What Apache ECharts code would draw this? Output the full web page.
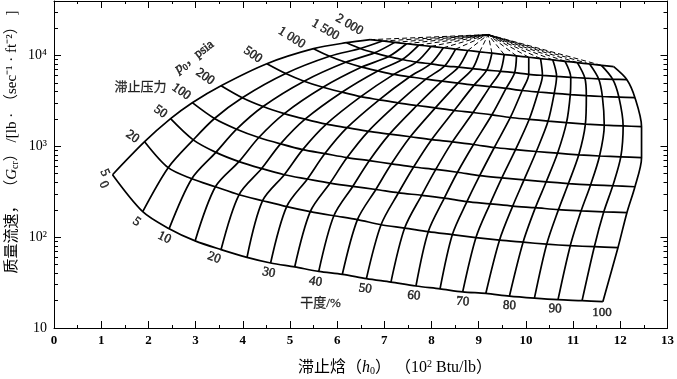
<!DOCTYPE html>
<html><head><meta charset="utf-8">
<script src="https://cdn.jsdelivr.net/npm/echarts@6/dist/echarts.min.js"></script>
<style>html,body{margin:0;padding:0;background:#fff}#c{width:677px;height:379px}</style>
</head><body><div id="c"></div>
<script>
// stagnation pressure lines (psia) and quality lines (%)
const pressures = [5, 20, 50, 100, 200, 500, 1000, 1500, 2000];
const qualities = [0,5,10,15,20,25,30,35,40,45,50,55,60,65,70,75,80,85,90,95,100];

// node enthalpy (10^2 Btu/lb) and critical mass flux (lb/(s·ft2)) for each pressure line, per quality
const enth_p5    = [1.24,1.88,2.44,2.99,3.54,4.09,4.59,5.10,5.61,6.11,6.62,7.14,7.67,8.18,8.66,9.15,9.65,10.18,10.68,11.19,11.63];
const flux_p5    = [487,191,124,91,73,60,52,47,42,39,35,32,29,27,25,24,22.4,21.3,20.5,20,19.5];
const enth_p20   = [1.92,2.42,2.92,3.42,3.92,4.42,4.93,5.43,5.93,6.43,6.93,7.43,7.93,8.44,8.94,9.44,9.94,10.44,10.94,11.45,11.95];
const flux_p20   = [1125,582,440,359,293,252,217,191,172,156,137,126,115,106.5,98.7,92.6,88,83.7,80.6,78.5,76.6];
const enth_p50   = [2.47,2.95,3.43,3.92,4.40,4.88,5.37,5.85,6.33,6.82,7.30,7.79,8.27,8.75,9.24,9.72,10.20,10.69,11.17,11.65,12.14];
const flux_p50   = [2015,1178,858,679,569,487,437,394,362,335,308,289,269,246,233,220,211,201,195,190,186];
const enth_p100  = [2.93,3.40,3.87,4.34,4.80,5.27,5.74,6.21,6.68,7.15,7.62,8.09,8.55,9.02,9.49,9.96,10.43,10.90,11.37,11.84,12.31];
const flux_p100  = [3024,2026,1545,1251,1064,919,832,752,695,642,592,557,518,476,450,427,407,389,376,368,359];
const enth_p200  = [3.54,3.99,4.43,4.88,5.32,5.77,6.21,6.66,7.11,7.55,8.00,8.44,8.89,9.33,9.78,10.22,10.67,11.12,11.56,12.01,12.45];
const flux_p200  = [4652,3432,2745,2294,1990,1753,1604,1464,1364,1274,1184,1119,1048,971,921,877,840,807,783,767,750];
const enth_p500  = [4.51,4.91,5.30,5.70,6.10,6.50,6.89,7.29,7.69,8.08,8.48,8.88,9.28,9.67,10.07,10.47,10.86,11.26,11.66,12.06,12.45];
const flux_p500  = [8124,6338,5214,4467,3947,3520,3253,3008,2815,2650,2481,2358,2225,2078,1985,1896,1821,1757,1709,1679,1645];
const enth_p1000 = [5.50,5.84,6.18,6.52,6.86,7.20,7.54,7.88,8.22,8.56,8.90,9.24,9.58,9.92,10.26,10.60,10.94,11.28,11.62,11.97,12.31];
const flux_p1000 = [11885,9802,8419,7455,6771,6194,5829,5487,5214,4968,4722,4546,4344,4119,3966,3837,3712,3610,3537,3484,3432];
const enth_p1500 = [6.20,6.49,6.79,7.09,7.38,7.68,7.98,8.28,8.57,8.87,9.17,9.46,9.76,10.06,10.35,10.65,10.95,11.25,11.54,11.84,12.14];
const flux_p1500 = [13836,11946,10683,9727,9040,8462,8085,7703,7435,7158,6891,6702,6467,6211,6039,5888,5755,5626,5541,5471,5416];
const enth_p2000 = [6.70,6.96,7.22,7.47,7.73,7.99,8.25,8.51,8.77,9.02,9.28,9.54,9.80,10.06,10.31,10.57,10.83,11.09,11.35,11.60,11.86];
const flux_p2000 = [14935,14432,13946,13478,13024,12585,12163,11749,11356,10972,10602,10247,9901,9568,9247,8935,8635,8344,8063,7794,7532];

// point where dashed extensions converge
const convergePoint = [9.2, 17000];

// axis ticks
const xTicks = [0,1,2,3,4,5,6,7,8,9,10,11,12,13];
const yDecades = [10, 100, 1000, 10000];
const yDecadeLabels = ['10', '10²', '10³', '10⁴'];
const yMinorTicks = [20,30,40,50,60,70,80,90,200,300,400,500,600,700,800,900,2000,3000,4000,5000,6000,7000,8000,9000,20000,30000];

// text annotations (text, enthalpy, flux)
const pressureLabels = ['5','20','50','100','200','500','1 000','1 500','2 000'];
const pressureLabelAt = [[1.075,513],[1.665,1277],[2.255,2406],[2.697,3996],[3.203,5844],[4.214,10206],[5.036,15710],[5.752,19245],[6.258,21840]];
const qualityLabels = ['0','5','10','20','30','40','50','60','70','80','90','100'];
const qualityLabelAt = [[1.054,378],[1.749,148],[2.339,98.7],[3.392,59.4],[4.551,40.6],[5.541,32.3],[6.595,27.1],[7.627,22.7],[8.66,19.5],[9.65,17.6],[10.62,16.3],[11.61,14.7]];

const enthRows = [enth_p5,enth_p20,enth_p50,enth_p100,enth_p200,enth_p500,enth_p1000,enth_p1500,enth_p2000];
const fluxRows = [flux_p5,flux_p20,flux_p50,flux_p100,flux_p200,flux_p500,flux_p1000,flux_p1500,flux_p2000];

const SERIF = "'Liberation Serif','Times New Roman','Noto Sans CJK SC',serif";
const series = [];
const solid = {color:'#000', width:1.7};

pressures.forEach((p, i) => {
  series.push({type:'line', name:'p'+p, data: enthRows[i].map((h, j) => [h, fluxRows[i][j]]),
    smooth:0.3, showSymbol:false, silent:true, lineStyle:solid, z:3});
});
qualities.forEach((q, j) => {
  series.push({type:'line', name:'x'+q, data: pressures.map((p, i) => [enthRows[i][j], fluxRows[i][j]]),
    smooth:0.3, showSymbol:false, silent:true, lineStyle:solid, z:3});
});
qualities.slice(0, 20).forEach((q, j) => {
  series.push({type:'line', data: [[enth_p2000[j], flux_p2000[j]], convergePoint],
    showSymbol:false, silent:true, lineStyle:{color:'#000', width:1, type:[5,3]}, z:2});
});

const labelBase = {position:[0,0], align:'center', verticalAlign:'middle', color:'#000',
  textBorderColor:'#000', textBorderWidth:0.5, textShadowBlur:0, fontFamily:SERIF, fontSize:13};
const pRot = [-65,-35,-35,-35,-35,-35,-32,-30,-30];
series.push({type:'scatter', symbolSize:0, silent:true, z:5, itemStyle:{color:'#000'},
  data: pressureLabels.map((t, i) => ({value: pressureLabelAt[i], label:{show:true, formatter:t, rotate:pRot[i]}})),
  label:labelBase});
const qRot = [-65,-35,-25,-20,-12,-10,-8,-6,-5,-3,-2,0];
series.push({type:'scatter', symbolSize:0, silent:true, z:5, itemStyle:{color:'#000'},
  data: qualityLabels.map((t, i) => ({value: qualityLabelAt[i], label:{show:true, formatter:t, rotate:qRot[i]}})),
  label:labelBase});
series.push({type:'scatter', symbolSize:0, silent:true, z:5, itemStyle:{color:'#000'},
  data: [
    {value:[2.971, 9703], label:{show:true, formatter:'{i|p}{s|0}，psia', rotate:37}},
    {value:[1.833, 4423], label:{show:true, formatter:'滞止压力', rotate:0, textBorderWidth:0.3}},
    {value:[5.647, 18.5], label:{show:true, formatter:'干度/%', rotate:0, textBorderWidth:0.3}}
  ],
  label:Object.assign({}, labelBase, {
    rich:{i:{fontStyle:'italic', fontFamily:SERIF, fontSize:14, color:'#000'}, s:{fontSize:9, fontFamily:SERIF, color:'#000', padding:[7,0,0,0]}}})});

const axisLineStyle = {show:true, lineStyle:{color:'#000', width:1}};
const option = {
  backgroundColor:'#fff',
  animation:false,
  grid:{left:54, right:6, top:1, bottom:51},
  xAxis:[
    {type:'value', min:0, max:13, interval:1, position:'bottom', axisLine:axisLineStyle,
     axisTick:{inside:true, length:7, lineStyle:{color:'#000'}},
     minorTick:{show:true, splitNumber:2, length:3, lineStyle:{color:'#000'}},
     splitLine:{show:false},
     axisLabel:{color:'#000', fontFamily:SERIF, fontSize:13, fontWeight:'bold', margin:6,
       formatter: v => String(xTicks[Math.round(v)])}},
    {type:'value', min:0, max:13, interval:1, position:'top', axisLine:axisLineStyle,
     axisTick:{inside:true, length:7, lineStyle:{color:'#000'}},
     minorTick:{show:true, splitNumber:2, length:3, lineStyle:{color:'#000'}},
     splitLine:{show:false}, axisLabel:{show:false}}
  ],
  yAxis:[
    {type:'log', logBase:10, min:10, max:39811, position:'left', axisLine:axisLineStyle,
     axisTick:{inside:true, length:7, lineStyle:{color:'#000'}, customValues:yDecades},
     splitLine:{show:false},
     axisLabel:{color:'#000', fontFamily:SERIF, fontSize:14, margin:7, customValues:yDecades,
       formatter: v => yDecadeLabels[yDecades.indexOf(Math.round(v))] || ''}},
    {type:'log', logBase:10, min:10, max:39811, position:'left', axisLine:{show:false},
     axisTick:{inside:true, length:4, lineStyle:{color:'#000'}, customValues:yMinorTicks},
     splitLine:{show:false}, axisLabel:{show:false}},
    {type:'log', logBase:10, min:10, max:39811, position:'right', axisLine:axisLineStyle,
     axisTick:{inside:true, length:7, lineStyle:{color:'#000'}, customValues:yDecades},
     splitLine:{show:false}, axisLabel:{show:false}},
    {type:'log', logBase:10, min:10, max:39811, position:'right', axisLine:{show:false},
     axisTick:{inside:true, length:4, lineStyle:{color:'#000'}, customValues:yMinorTicks},
     splitLine:{show:false}, axisLabel:{show:false}}
  ],
  graphic:[
    {type:'text', x:395, y:368, style:{text:'滞止焓（{i|h}{s|0}） （10{p|2} Btu/lb）', align:'center', verticalAlign:'middle',
      fontFamily:SERIF, fontSize:16, fill:'#000',
      rich:{i:{fontStyle:'italic', fontFamily:SERIF, fontSize:16}, s:{fontSize:10, fontFamily:SERIF, padding:[7,0,0,0]}, p:{fontSize:10, fontFamily:SERIF, padding:[0,0,7,0]}}}},
    {type:'text', x:12, y:142, rotation:Math.PI/2, style:{text:'质量流速， （{i|G}{s|cr}） /[lb · （sec⁻¹ · ft⁻²） ]', align:'center', verticalAlign:'middle',
      fontFamily:SERIF, fontSize:15, fill:'#000',
      rich:{i:{fontStyle:'italic', fontFamily:SERIF, fontSize:15}, s:{fontSize:10, fontFamily:SERIF, padding:[7,0,0,0]}}}}
  ],
  series: series
};
const chart = echarts.init(document.getElementById('c'));
chart.setOption(option);
</script>
</body></html>
